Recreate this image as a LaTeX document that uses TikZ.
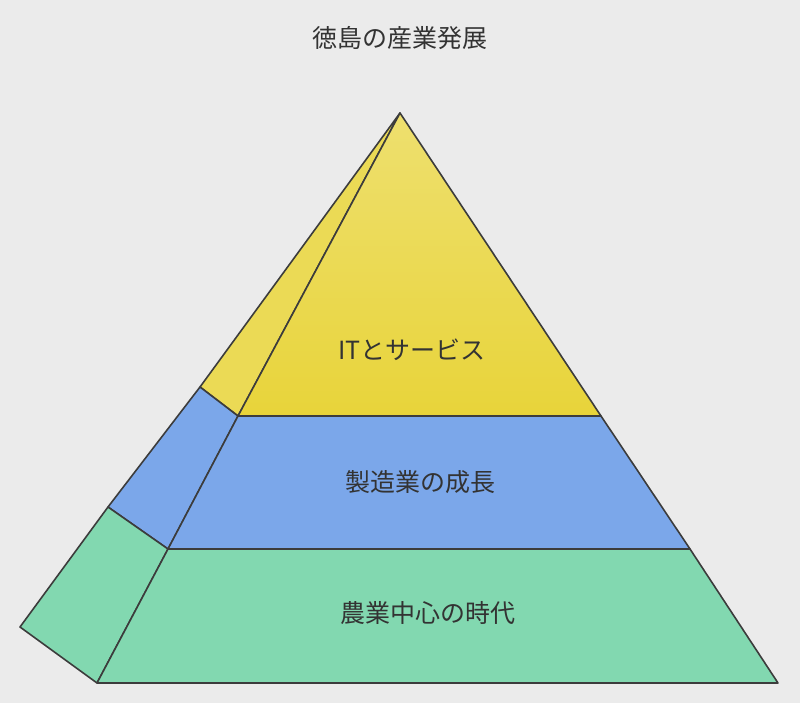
\documentclass[tikz,border=0pt]{standalone}
\usepackage{fontspec}
\newfontfamily\cjk{Noto Sans CJK JP}
\definecolor{colorBg}{HTML}{EBEBEB}
\definecolor{colorTop}{HTML}{EBDA55}
\definecolor{colorTopLo}{HTML}{E8D43A}
\definecolor{colorMid}{HTML}{7BA7EA}
\definecolor{colorLow}{HTML}{82D8B0}
\definecolor{colorEdge}{HTML}{3C3C3C}
\definecolor{colorText}{HTML}{333333}
\begin{document}
\begin{tikzpicture}[x=1pt,y=-1pt,face/.style={draw=colorEdge, line width=1.6pt, line join=round},lbl/.style={font=\cjk\fontsize{25}{30}\selectfont, text=colorText}]
    \fill [colorBg] (0,0) rectangle (800,703);
    \useasboundingbox (0,0) rectangle (800,703);
    % corner points
    \coordinate (apex) at (400,113);
    \coordinate (tl) at (238,416);
    \coordinate (tr) at (601,416);
    \coordinate (ml) at (168,549);
    \coordinate (mr) at (690,549);
    \coordinate (bl) at (97,683);
    \coordinate (br) at (778,683);
    \coordinate (s1) at (200,387);
    \coordinate (s2) at (108,507);
    \coordinate (s3) at (20,627);
    % side face
    \path [face, fill=colorTop] (apex) -- (tl) -- (s1) -- cycle;
    \path [face, fill=colorMid] (s1) -- (tl) -- (ml) -- (s2) -- cycle;
    \path [face, fill=colorLow] (s2) -- (ml) -- (bl) -- (s3) -- cycle;
    % front face
    \path [face, top color=colorTop!85!white, bottom color=colorTopLo] (apex) -- (tr) -- (tl) -- cycle;
    \path [face, fill=colorMid] (tl) -- (tr) -- (mr) -- (ml) -- cycle;
    \path [face, fill=colorLow] (ml) -- (mr) -- (br) -- (bl) -- cycle;
    % labels
    \node [lbl] (it) at (412,350) {ITとサービス};
    \node [lbl] (mfg) at (420,482) {製造業の成長};
    \node [lbl] (agri) at (428,613) {農業中心の時代};
    \node [lbl] (title) at (400,38) {徳島の産業発展};
\end{tikzpicture}
\end{document}
